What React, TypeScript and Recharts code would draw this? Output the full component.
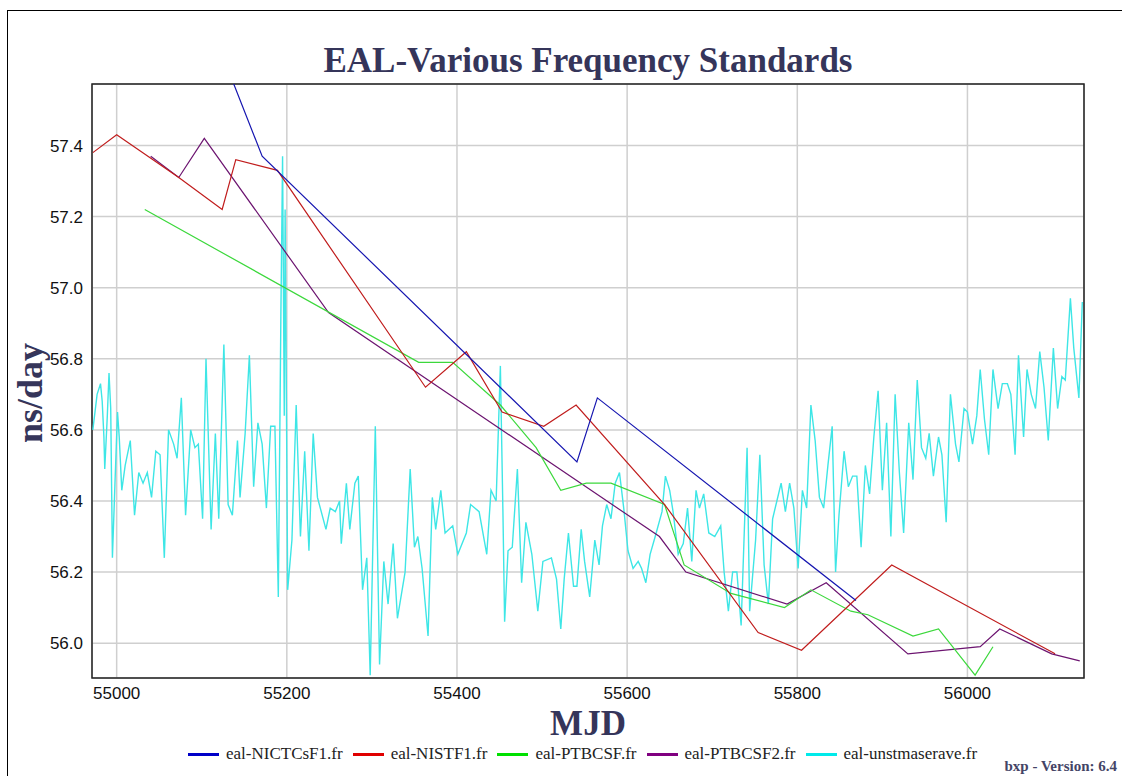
import React from "react";
import {
  LineChart,
  Line,
  XAxis,
  YAxis,
  CartesianGrid,
  ReferenceArea,
} from "recharts";

// MJD range and ns/day range of the plot frame
const xDomain: [number, number] = [54971, 56137];
const yDomain: [number, number] = [55.902, 57.573];
const xTicks = [55000, 55200, 55400, 55600, 55800, 56000];
const yTicks = [56.0, 56.2, 56.4, 56.6, 56.8, 57.0, 57.2, 57.4];

const nictMjd = [55120, 55171, 55541, 55565, 55869];
const nictVal = [57.68, 57.37, 56.51, 56.69, 56.12];

const nistMjd = [54972, 55000, 55073, 55124, 55140, 55189, 55363, 55411, 55453, 55502, 55540, 55644, 55754, 55805, 55911, 56103];
const nistVal = [57.38, 57.43, 57.31, 57.22, 57.36, 57.33, 56.72, 56.82, 56.65, 56.61, 56.67, 56.39, 56.03, 55.98, 56.22, 55.97];

const ptbMjd = [55033, 55355, 55395, 55451, 55493, 55522, 55552, 55581, 55644, 55667, 55722, 55785, 55816, 55863, 55883, 55936, 55966, 56009, 56030];
const ptbVal = [57.22, 56.79, 56.79, 56.67, 56.55, 56.43, 56.45, 56.45, 56.39, 56.22, 56.14, 56.1, 56.15, 56.09, 56.08, 56.02, 56.04, 55.91, 55.99];

const ptb2Mjd = [55040, 55073, 55103, 55249, 55428, 55638, 55669, 55788, 55834, 55930, 56015, 56038, 56099, 56132];
const ptb2Val = [57.37, 57.31, 57.42, 56.93, 56.64, 56.3, 56.2, 56.11, 56.17, 55.97, 55.99, 56.04, 55.97, 55.95];

const maserMjd = [
  54972, 54977, 54981, 54983, 54985, 54986, 54989, 54991, 54993, 54995, 54998, 55001, 55003, 55006, 55010, 55016,
  55021, 55026, 55031, 55036, 55041, 55046, 55051, 55056, 55061, 55067, 55071, 55076, 55081, 55087, 55092, 55096,
  55101, 55105, 55111, 55116, 55120, 55126, 55131, 55136, 55142, 55145, 55151, 55156, 55161, 55166, 55171, 55176,
  55181, 55186, 55190, 55193, 55195, 55197, 55198, 55201, 55206, 55211, 55216, 55221, 55226, 55231, 55236, 55246,
  55251, 55257, 55262, 55264, 55270, 55274, 55280, 55284, 55289, 55294, 55298, 55304, 55309, 55314, 55319, 55325,
  55330, 55339, 55345, 55350, 55354, 55359, 55366, 55371, 55375, 55381, 55386, 55395, 55401, 55411, 55416, 55426,
  55435, 55440, 55446, 55448, 55451, 55454, 55456, 55460, 55465, 55471, 55476, 55481, 55488, 55495, 55501, 55511,
  55517, 55522, 55526, 55531, 55537, 55541, 55546, 55550, 55556, 55562, 55567, 55571, 55576, 55581, 55586, 55591,
  55596, 55601, 55607, 55613, 55617, 55622, 55627, 55633, 55641, 55645, 55650, 55654, 55660, 55666, 55671, 55676,
  55681, 55685, 55690, 55696, 55703, 55710, 55714, 55719, 55724, 55729, 55734, 55741, 55744, 55751, 55756, 55761,
  55766, 55771, 55776, 55781, 55786, 55791, 55796, 55801, 55806, 55811, 55816, 55821, 55826, 55831, 55836, 55841,
  55845, 55849, 55855, 55860, 55865, 55870, 55875, 55880, 55885, 55890, 55895, 55900, 55905, 55910, 55915, 55920,
  55925, 55931, 55936, 55941, 55946, 55951, 55955, 55960, 55966, 55970, 55975, 55980, 55986, 55990, 55996, 56000,
  56006, 56011, 56015, 56020, 56025, 56030, 56036, 56041, 56047, 56051, 56056, 56060, 56066, 56070, 56075, 56080,
  56085, 56090, 56095, 56101, 56106, 56111, 56115, 56121, 56125, 56131, 56135,
];
const maserVal = [
  56.6, 56.7, 56.73, 56.68, 56.58, 56.49, 56.64, 56.76, 56.66, 56.24, 56.45, 56.65, 56.58, 56.43, 56.5, 56.57,
  56.36, 56.48, 56.45, 56.48, 56.41, 56.54, 56.53, 56.24, 56.6, 56.56, 56.52, 56.69, 56.36, 56.6, 56.55, 56.56,
  56.35, 56.8, 56.32, 56.59, 56.35, 56.84, 56.39, 56.36, 56.57, 56.41, 56.59, 56.81, 56.44, 56.62, 56.56, 56.38,
  56.61, 56.61, 56.13, 56.92, 57.37, 56.64, 57.22, 56.15, 56.29, 56.67, 56.3, 56.54, 56.26, 56.59, 56.41, 56.32,
  56.38, 56.37, 56.4, 56.28, 56.45, 56.32, 56.45, 56.47, 56.15, 56.24, 55.91, 56.61, 55.94, 56.23, 56.11, 56.28,
  56.07, 56.2, 56.49, 56.27, 56.3, 56.21, 56.02, 56.41, 56.32, 56.43, 56.31, 56.33, 56.25, 56.31, 56.39, 56.37,
  56.25, 56.43, 56.4, 56.55, 56.78, 56.37, 56.06, 56.26, 56.27, 56.49, 56.17, 56.34, 56.25, 56.09, 56.23, 56.24,
  56.18, 56.04, 56.18, 56.31, 56.16, 56.16, 56.32, 56.23, 56.13, 56.29, 56.22, 56.33, 56.39, 56.35, 56.45, 56.48,
  56.38, 56.26, 56.21, 56.23, 56.21, 56.17, 56.25, 56.3, 56.37, 56.47, 56.43, 56.37, 56.25, 56.28, 56.38, 56.23,
  56.43, 56.38, 56.42, 56.31, 56.3, 56.33, 56.2, 56.09, 56.2, 56.2, 56.05, 56.55, 56.09, 56.29, 56.53, 56.22,
  56.11, 56.35, 56.4, 56.45, 56.37, 56.45, 56.38, 56.21, 56.43, 56.38, 56.67, 56.57, 56.41, 56.38, 56.5, 56.61,
  56.2, 56.36, 56.54, 56.44, 56.47, 56.47, 56.27, 56.5, 56.42, 56.58, 56.71, 56.43, 56.62, 56.3, 56.7, 56.48,
  56.31, 56.62, 56.46, 56.74, 56.55, 56.52, 56.59, 56.47, 56.58, 56.53, 56.34, 56.7, 56.56, 56.51, 56.66, 56.65,
  56.56, 56.64, 56.77, 56.63, 56.53, 56.77, 56.66, 56.73, 56.73, 56.7, 56.53, 56.81, 56.58, 56.77, 56.7, 56.66,
  56.82, 56.72, 56.57, 56.83, 56.66, 56.75, 56.74, 56.97, 56.83, 56.69, 56.96,
];

const toPoints = (mjd: number[], val: number[]) =>
  mjd.map((m, i) => ({ mjd: m, v: val[i] }));

const series = [
  { name: "eal-NICTCsF1.fr", data: toPoints(nictMjd, nictVal), color: "#1515b0", key: "#0000c8" },
  { name: "eal-NISTF1.fr", data: toPoints(nistMjd, nistVal), color: "#c01c1c", key: "#e00000" },
  { name: "eal-PTBCSF.fr", data: toPoints(ptbMjd, ptbVal), color: "#3cd83c", key: "#00e000" },
  { name: "eal-PTBCSF2.fr", data: toPoints(ptb2Mjd, ptb2Val), color: "#6c1470", key: "#800080" },
  { name: "eal-unstmaserave.fr", data: toPoints(maserMjd, maserVal), color: "#3ee6e6", key: "#00eaea" },
];

const labelColor = "#35355a";
const serif = "'Liberation Serif', 'Times New Roman', serif";
const tickStyle = { fill: "#111", fontSize: 17, fontFamily: "'Liberation Sans', Arial, sans-serif" };

export default function App() {
  return (
    <div style={{ position: "absolute", left: 0, top: 0, width: 1122, height: 776, background: "#fff", overflow: "hidden" }}>
      <div style={{ position: "absolute", left: 7, top: 10, width: 1200, height: 900, borderLeft: "1px solid #000", borderTop: "1px solid #000" }} />
      <LineChart
        width={1122}
        height={776}
        margin={{ top: 84, right: 38, bottom: 68, left: 42 }}
      >
        <CartesianGrid stroke="#cfcfcf" strokeWidth={1.5} />
        <XAxis
          type="number"
          dataKey="mjd"
          domain={xDomain}
          ticks={xTicks}
          allowDataOverflow
          height={30}
          tickSize={0}
          tickMargin={9}
          tick={tickStyle}
          axisLine={false}
        />
        <YAxis
          type="number"
          dataKey="v"
          domain={yDomain}
          ticks={yTicks}
          allowDataOverflow
          width={50}
          tickSize={0}
          tickMargin={9}
          tick={tickStyle}
          tickFormatter={(v: number) => v.toFixed(1)}
          axisLine={false}
        />
        {series.slice().reverse().map((s) => (
          <Line
            key={s.name}
            data={s.data}
            dataKey="v"
            name={s.name}
            type="linear"
            stroke={s.color}
            strokeWidth={s.name === "eal-unstmaserave.fr" ? 1.4 : 1.2}
            dot={false}
            activeDot={false}
            isAnimationActive={false}
          />
        ))}
        <ReferenceArea
          x1={xDomain[0]}
          x2={xDomain[1]}
          y1={yDomain[0]}
          y2={yDomain[1]}
          fill="none"
          stroke="#222"
          strokeWidth={1.5}
          ifOverflow="visible"
        />
      </LineChart>
      <svg width={1122} height={776} style={{ position: "absolute", left: 0, top: 0, pointerEvents: "none" }}>
        <text x={588} y={72} textAnchor="middle" fontFamily={serif} fontWeight="bold" fontSize={35} fill={labelColor}>
          EAL-Various Frequency Standards
        </text>
        <text x={588} y={735} textAnchor="middle" fontFamily={serif} fontWeight="bold" fontSize={35} fill={labelColor}>
          MJD
        </text>
        <text x={0} y={0} transform="translate(42,393) rotate(-90)" textAnchor="middle" fontFamily={serif} fontWeight="bold" fontSize={36} fill={labelColor}>
          ns/day
        </text>
        <text x={1117} y={771} textAnchor="end" fontFamily={serif} fontWeight="bold" fontSize={15} fill="#444466">
          bxp - Version: 6.4
        </text>
      </svg>
      <div style={{ position: "absolute", left: 188, top: 744, display: "flex", alignItems: "center", fontFamily: serif, fontSize: 17, color: "#222", whiteSpace: "nowrap" }}>
        {series.map((s) => (
          <div key={s.name} style={{ display: "flex", alignItems: "center", marginRight: 10 }}>
            <span style={{ display: "inline-block", width: 31, height: 3, background: s.key, marginRight: 7 }} />
            <span>{s.name}</span>
          </div>
        ))}
      </div>
    </div>
  );
}
